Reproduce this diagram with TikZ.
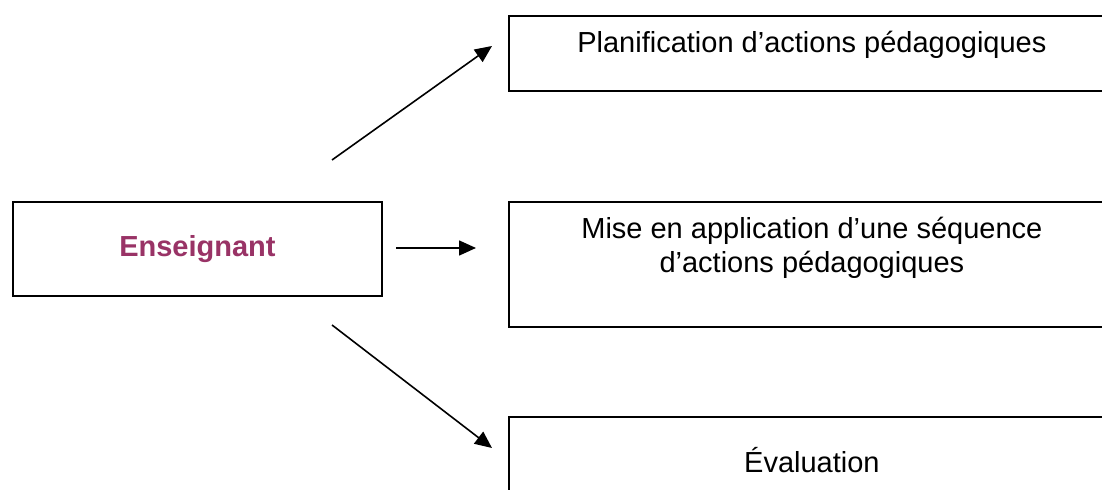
\documentclass[tikz,border=0pt]{standalone}
\usepackage{fontspec}
\setmainfont{Liberation Sans}
\usetikzlibrary{arrows.meta}
\definecolor{plum}{HTML}{993366}
\tikzset{
  box/.style={draw=black, line width=0.9pt, fill=white, inner sep=0pt, anchor=north west},
  lbl/.style={inner sep=0pt, font=\fontsize{14.5}{17}\selectfont, text=black},
  conn/.style={line width=0.8pt, -{Triangle[length=8.5pt,width=7.5pt]}}
}
\begin{document}
\begin{tikzpicture}[x=0.5pt,y=-0.5pt]
\useasboundingbox (0,0) rectangle (1102,490);
\clip (0,0) rectangle (1102,490);
% boxes
\node[box, minimum width=184.5pt, minimum height=47pt, font=\fontsize{14.5}{17}\selectfont\bfseries, text=plum] (ens) at (12,201) {Enseignant};
\node[box, minimum width=303pt, minimum height=37.5pt] (b1) at (508,15) {};
\node[box, minimum width=303pt, minimum height=62.5pt] (b2) at (508,201) {};
\node[box, minimum width=303pt, minimum height=40pt] (b3) at (508,416) {};
% texts
\node[lbl, anchor=base] (t1) at (b1.north |- 0,53) {Planification d’actions pédagogiques};
\node[lbl, anchor=north, align=center] (t2) at (b2.north |- 0,217) {Mise en application d’une séquence\\d’actions pédagogiques};
\node[lbl, anchor=base] (t3) at (b3.north |- 0,473) {Évaluation};
% connectors
\coordinate (a1s) at (332,160);
\coordinate (a1e) at (492,46);
\coordinate (a2s) at (396,248);
\coordinate (a2e) at (476,248);
\coordinate (a3s) at (332,325);
\coordinate (a3e) at (492,448);
\draw[conn] (a1s) -- (a1e);
\draw[conn] (a2s) -- (a2e);
\draw[conn] (a3s) -- (a3e);
\end{tikzpicture}
\end{document}
